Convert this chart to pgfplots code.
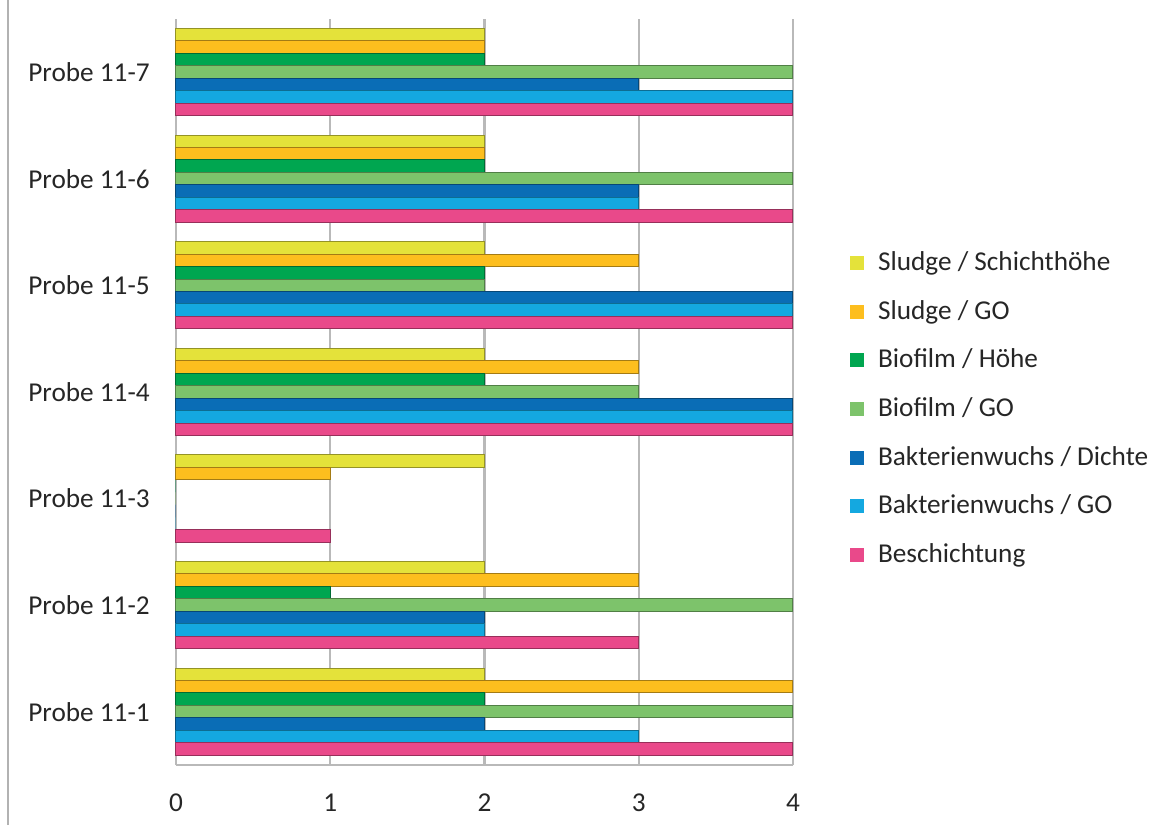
\documentclass[border=0pt]{standalone}
\usepackage{fontspec}
\setmainfont{Carlito}
\usepackage{pgfplots}
\usepackage{pgfplotstable}
\pgfplotsset{compat=1.18}
\definecolor{cSS}{HTML}{E4E23A}
\definecolor{cSGO}{HTML}{FDBE1E}
\definecolor{cBH}{HTML}{00A650}
\definecolor{cBGO}{HTML}{7DC36B}
\definecolor{cKD}{HTML}{0A6DB6}
\definecolor{cKGO}{HTML}{14A8E0}
\definecolor{cBe}{HTML}{E9498A}

\pgfplotstableread{
y SS SGO BH BGO KD KGO Be
0 2 4 2 4 2 3 4
1 2 3 1 4 2 2 3
2 2 1 0 0 0 0 1
3 2 3 2 3 4 4 4
4 2 3 2 2 4 4 4
5 2 2 2 4 3 3 4
6 2 2 2 4 3 4 4
}\datatable

\pgfplotsset{
  bstyle/.style={xbar, fill=#1, draw=#1!65!black, line width=0.4pt, forget plot},
}

\begin{document}
\begin{tikzpicture}[x=1pt,y=1pt]
\useasboundingbox (-70.4,-24) rectangle (393.2,306);
\draw[gray!60, line width=0.8pt] (-67.2,-24) -- (-67.2,306);
\begin{axis}[
  at={(0,0)}, anchor=south west, scale only axis,
  width=246.8pt, height=298.5pt,
  bar width=0.117,
  xmin=0, xmax=4, ymin=-0.5, ymax=6.5,
  xtick={0,1,2,3,4}, ytick={0,1,2,3,4,5,6},
  yticklabels={Probe 11-1,Probe 11-2,Probe 11-3,Probe 11-4,Probe 11-5,Probe 11-6,Probe 11-7},
  xmajorgrids, grid style={gray!55, line width=0.9pt},
  axis x line*=bottom, axis y line*=left,
  axis line style={gray!55, line width=0.9pt},
  major tick length=0pt,
  tick label style={font=\fontsize{10.9}{13}\selectfont, text=black!85},
  xticklabel shift=8pt, yticklabel shift=7pt,
  /pgf/number format/assume math mode=true,
  legend image code/.code={\fill[#1] (0pt,-2.8pt) rectangle (5.6pt,2.8pt);},
  legend style={at={(1.08,0.702)}, anchor=north west, draw=none, fill=none,
    font=\fontsize{10.9}{13}\selectfont, text=black!85, row sep=6.4pt,
    /tikz/every odd column/.append style={column sep=3.5pt}},
  legend cell align=left,
  clip=false,
]
\addplot[bar shift=0.351, bstyle=cSS] table[x=SS,y=y]{\datatable};
\addplot[bar shift=0.234, bstyle=cSGO] table[x=SGO,y=y]{\datatable};
\addplot[bar shift=0.117, bstyle=cBH] table[x=BH,y=y]{\datatable};
\addplot[bar shift=0, bstyle=cBGO] table[x=BGO,y=y]{\datatable};
\addplot[bar shift=-0.117, bstyle=cKD] table[x=KD,y=y]{\datatable};
\addplot[bar shift=-0.234, bstyle=cKGO] table[x=KGO,y=y]{\datatable};
\addplot[bar shift=-0.351, bstyle=cBe] table[x=Be,y=y]{\datatable};
\addlegendimage{fill=cSS, draw=none}\addlegendentry{Sludge / Schichthöhe}
\addlegendimage{fill=cSGO, draw=none}\addlegendentry{Sludge / GO}
\addlegendimage{fill=cBH, draw=none}\addlegendentry{Biofilm / Höhe}
\addlegendimage{fill=cBGO, draw=none}\addlegendentry{Biofilm / GO}
\addlegendimage{fill=cKD, draw=none}\addlegendentry{Bakterienwuchs / Dichte}
\addlegendimage{fill=cKGO, draw=none}\addlegendentry{Bakterienwuchs / GO}
\addlegendimage{fill=cBe, draw=none}\addlegendentry{Beschichtung}
\end{axis}
\end{tikzpicture}
\end{document}
